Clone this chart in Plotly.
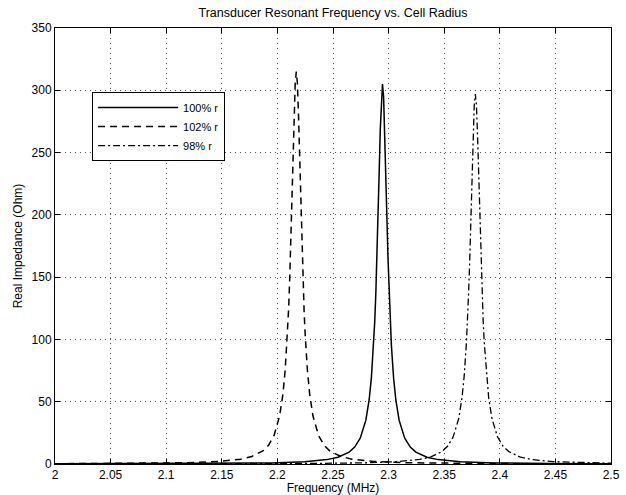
import plotly.graph_objects as go

# 100% r
x100 = [2.0, 2.0945, 2.1445, 2.1945, 2.2245, 2.2445, 2.2545, 2.2645, 2.2695, 2.2745, 2.2795, 2.2825,
        2.2845, 2.2865, 2.2875, 2.2885, 2.2895, 2.2905, 2.2915, 2.2925, 2.2935, 2.2945, 2.2955, 2.2965,
        2.2975, 2.2985, 2.2995, 2.3005, 2.3015, 2.3025, 2.3045, 2.3065, 2.3095, 2.3145, 2.3195, 2.3245,
        2.3345, 2.3445, 2.3645, 2.3945, 2.4445, 2.4945, 2.5]
y100 = [0.11, 0.22, 0.39, 0.89, 1.80, 3.52, 5.46, 9.57, 13.6, 20.7, 35.0, 51.4,
        68.9, 95.5, 113.8, 136.5, 164.2, 196.9, 233.1, 268.2, 294.9, 305, 294.9, 268.2,
        233.1, 196.9, 164.2, 136.5, 113.8, 95.5, 68.9, 51.4, 35.0, 20.7, 13.6, 9.57,
        5.46, 3.52, 1.80, 0.89, 0.39, 0.22, 0.21]

# 102% r
x102 = [2.0, 2.017, 2.067, 2.117, 2.147, 2.167, 2.177, 2.187, 2.192, 2.197, 2.202, 2.205,
        2.207, 2.209, 2.210, 2.211, 2.212, 2.213, 2.214, 2.215, 2.216, 2.217, 2.218, 2.219,
        2.220, 2.221, 2.222, 2.223, 2.224, 2.225, 2.227, 2.229, 2.232, 2.237, 2.242, 2.247,
        2.257, 2.267, 2.287, 2.317, 2.367, 2.417, 2.5]
y102 = [0.21, 0.25, 0.44, 0.98, 2.00, 3.90, 6.06, 10.6, 15.05, 22.9, 38.5, 56.3,
        75.2, 103.6, 122.9, 146.6, 175.3, 208.6, 244.8, 279.4, 305.3, 315, 305.3, 279.4,
        244.8, 208.6, 175.3, 146.6, 122.9, 103.6, 75.2, 56.3, 38.5, 22.9, 15.05, 10.6,
        6.06, 3.90, 2.00, 0.98, 0.44, 0.25, 0.12]

# 98% r
x98 = [2.0, 2.178, 2.228, 2.278, 2.308, 2.328, 2.338, 2.348, 2.353, 2.358, 2.363, 2.366,
       2.368, 2.370, 2.371, 2.372, 2.373, 2.374, 2.375, 2.376, 2.377, 2.378, 2.379, 2.380,
       2.381, 2.382, 2.383, 2.384, 2.385, 2.386, 2.388, 2.390, 2.393, 2.398, 2.403, 2.408,
       2.418, 2.428, 2.448, 2.478, 2.5]
y98 = [0.065, 0.23, 0.41, 0.93, 1.89, 3.68, 5.71, 10.0, 14.19, 21.6, 36.3, 53.1,
       70.9, 97.7, 115.9, 138.3, 165.3, 196.7, 230.8, 263.4, 287.8, 297, 287.8, 263.4,
       230.8, 196.7, 165.3, 138.3, 115.9, 97.7, 70.9, 53.1, 36.3, 21.6, 14.19, 10.0,
       5.71, 3.68, 1.89, 0.93, 0.62]

xticks = [2, 2.05, 2.1, 2.15, 2.2, 2.25, 2.3, 2.35, 2.4, 2.45, 2.5]
xticklabels = ["2", "2.05", "2.1", "2.15", "2.2", "2.25", "2.3", "2.35", "2.4", "2.45", "2.5"]
yticks = [0, 50, 100, 150, 200, 250, 300, 350]

font = "Liberation Sans, Arial, Helvetica, sans-serif"

fig = go.Figure()
fig.add_trace(go.Scatter(x=x100, y=y100, mode="lines", name="100% r",
                         line=dict(color="black", width=1.5)))
fig.add_trace(go.Scatter(x=x102, y=y102, mode="lines", name="102% r",
                         line=dict(color="black", width=1.5, dash="7px,5px")))
fig.add_trace(go.Scatter(x=x98, y=y98, mode="lines", name="98% r",
                         line=dict(color="black", width=1.3, dash="7px,3px,2px,3px")))

axis_common = dict(showline=True, linecolor="black", linewidth=1, mirror="ticks",
                   ticks="inside", ticklen=5, tickcolor="black", automargin=False,
                   showgrid=True, gridcolor="#555", gridwidth=1, griddash="1px,4px",
                   zeroline=False, tickfont=dict(family=font, size=12, color="black"))

fig.update_xaxes(range=[2, 2.5], tickvals=xticks, ticktext=xticklabels,
                 title=dict(text="Frequency (MHz)", font=dict(family=font, size=12, color="black"), standoff=0),
                 **axis_common)
fig.update_yaxes(range=[0, 350], tickvals=yticks,
                 title=dict(text="Real Impedance (Ohm)", font=dict(family=font, size=12, color="black"), standoff=6),
                 **axis_common)

fig.update_layout(
    width=626, height=495,
    margin=dict(l=55, r=15, t=28, b=31),
    paper_bgcolor="white", plot_bgcolor="white",
    title=dict(text="Transducer Resonant Frequency vs. Cell Radius", x=0.532, xanchor="center",
               y=0.974, yanchor="middle", font=dict(family=font, size=12.5, color="black")),
    legend=dict(x=0.0667, y=0.853, xanchor="left", yanchor="top",
                bgcolor="white", bordercolor="black", borderwidth=1,
                font=dict(family=font, size=11, color="black"),
                itemwidth=80, tracegroupgap=0),
    showlegend=True,
)

fig.write_html("out.html")
